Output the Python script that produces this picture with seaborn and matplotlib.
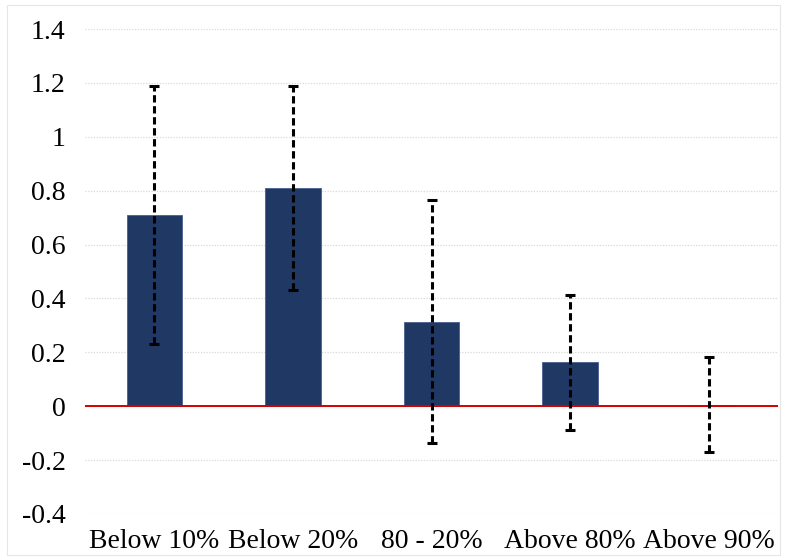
import matplotlib
matplotlib.use("Agg")
import matplotlib.pyplot as plt
import seaborn as sns
import pandas as pd
from matplotlib.patches import Rectangle

# Estimated effects by group, with half-widths of the confidence intervals
categories = ["Below 10%", "Below 20%", "80 - 20%", "Above 80%", "Above 90%"]
estimates = [0.71, 0.81, 0.314, 0.163, 0.006]
ci_halfwidth = [0.48, 0.38, 0.45, 0.25, 0.175]
ytick_values = [-0.4, -0.2, 0, 0.2, 0.4, 0.6, 0.8, 1, 1.2, 1.4]
ytick_labels = ["-0.4", "-0.2", "0", "0.2", "0.4", "0.6", "0.8", "1", "1.2", "1.4"]

df = pd.DataFrame({"group": categories, "estimate": estimates})

sns.set_theme(style="white")
plt.rcParams["font.family"] = ["Liberation Serif", "DejaVu Serif"]

fig = plt.figure(figsize=(7.87, 5.58), dpi=100)
ax = fig.add_axes([0.108, 0.0789, 0.8806, 0.869])

sns.barplot(data=df, x="group", y="estimate", color="#203864", width=0.4,
            errorbar=None, saturation=1, edgecolor="#4a5f8e", linewidth=0.6, ax=ax, zorder=2)

eb = ax.errorbar(x=range(len(categories)), y=estimates, yerr=ci_halfwidth, fmt="none",
                 ecolor="black", elinewidth=2.2, capsize=3.5, capthick=2.2, zorder=4)
eb[2][0].set_linestyle((0, (2.4, 1.2)))

# zero reference line drawn over the bar bases
ax.axhline(0, color="#d40000", linewidth=1.4, zorder=3)

ax.set_ylim(-0.4, 1.4)
ax.set_xlim(-0.5, len(categories) - 0.5)
ax.set_yticks(ytick_values)
ax.set_yticklabels(ytick_labels)
ax.yaxis.grid(True, color="#d9d9d9", linestyle=(0, (1, 1.2)), linewidth=0.9)
ax.set_axisbelow(True)
for s in ax.spines.values():
    s.set_visible(False)
ax.tick_params(axis="y", length=0, pad=14, labelsize=20, labelcolor="black")
ax.tick_params(axis="x", length=0, pad=11, labelsize=20, labelcolor="black")
ax.set_xlabel("")
ax.set_ylabel("")

fig.patches.append(Rectangle((0.009, 0.006), 0.982, 0.985, transform=fig.transFigure,
                             fill=False, edgecolor="#e6e6e6", linewidth=0.8))

fig.savefig("out.png", dpi=100)
